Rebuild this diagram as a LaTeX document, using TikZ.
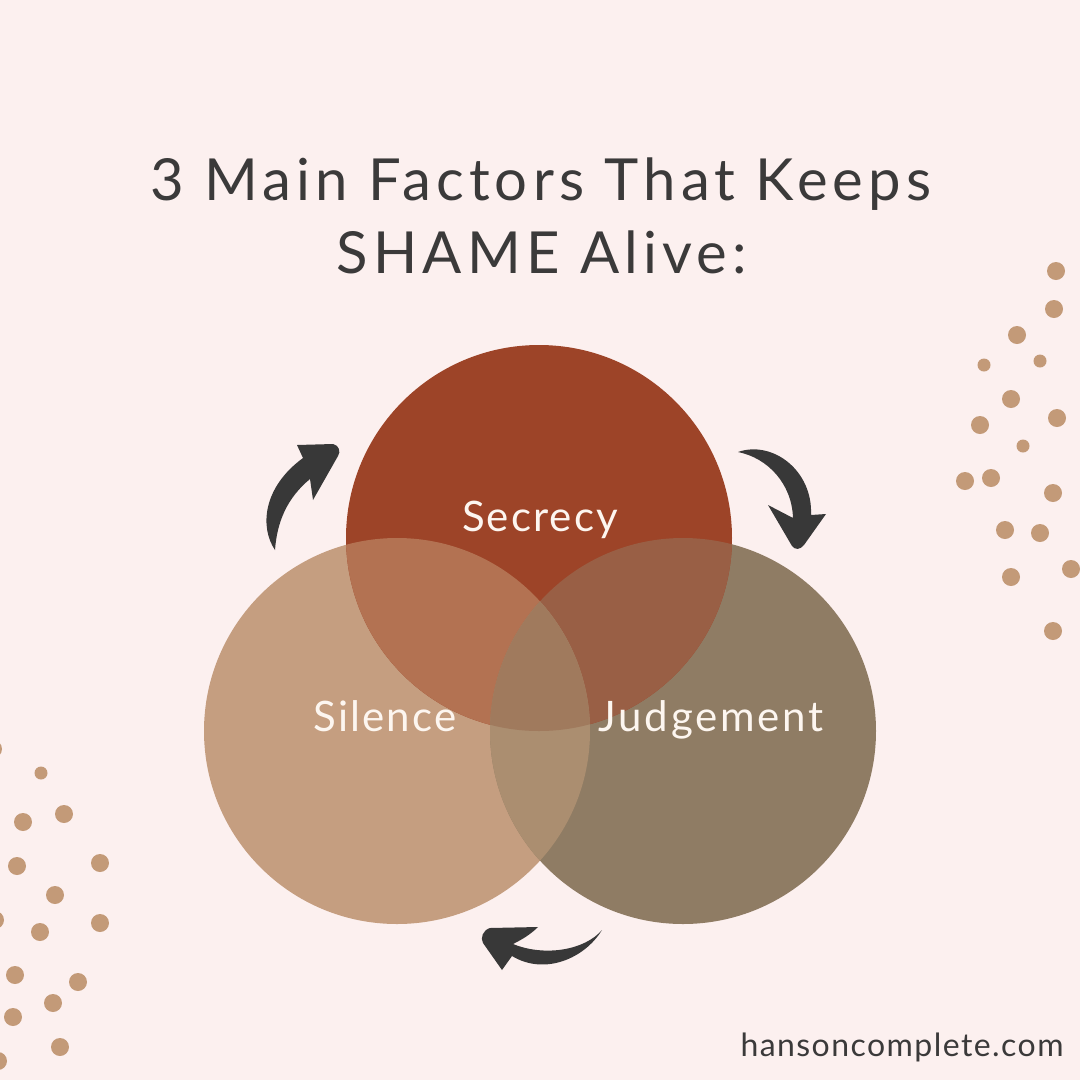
\documentclass[tikz,border=0pt]{standalone}
\usepackage{fontspec}
\newfontfamily\titlefont[LetterSpace=9]{Lato}
\newfontfamily\labelfont[LetterSpace=5]{Lato}
\newfontfamily\judgefont[LetterSpace=6.5]{Lato}
\newfontfamily\footfont[LetterSpace=4.5]{Lato}
\definecolor{bg}{HTML}{FCF0EF}
\definecolor{ink}{HTML}{3B3A3A}
\definecolor{arrowc}{HTML}{383838}
\definecolor{dotc}{HTML}{C39A78}
\definecolor{csec}{HTML}{9D4428}
\definecolor{csil}{HTML}{C59E80}
\definecolor{cjud}{HTML}{8F7C64}
\definecolor{csecsil}{HTML}{B37252}
\definecolor{csecjud}{HTML}{995F45}
\definecolor{csiljud}{HTML}{AB8E70}
\definecolor{call}{HTML}{A07A5D}
\definecolor{labc}{HTML}{FDF6F0}
\tikzset{
  titletext/.style={text=ink, anchor=base, inner sep=0pt, font=\titlefont\fontsize{58}{62}\selectfont},
  labeltext/.style={text=labc, anchor=base, inner sep=0pt, font=\labelfont\fontsize{42}{46}\selectfont},
  foottext/.style={text=ink, anchor=base, inner sep=0pt, font=\footfont\fontsize{32}{36}\selectfont},
  cyclearrow/.style={fill=arrowc, draw=none},
  dot/.style={fill=dotc, draw=none}
}
\begin{document}
\begin{tikzpicture}[x=1pt,y=-1pt]
\path[use as bounding box, fill=bg] (0,0) rectangle (1080,1080);
\clip (0,0) rectangle (1080,1080);

% title
\node[titletext] (t1) at (541,200) {3 Main Factors That Keeps};
\node[titletext] (t2) at (542,273) {SHAME Alive:};

% circles
\def\rr{193}
\coordinate (csecc) at (539,538);
\coordinate (csilc) at (397,731);
\coordinate (cjudc) at (683,731);
\fill[csil] (csilc) circle (\rr);
\fill[cjud] (cjudc) circle (\rr);
\fill[csec] (csecc) circle (\rr);
\begin{scope}
  \clip (csecc) circle (\rr);
  \fill[csecsil] (csilc) circle (\rr);
\end{scope}
\begin{scope}
  \clip (csecc) circle (\rr);
  \fill[csecjud] (cjudc) circle (\rr);
\end{scope}
\begin{scope}
  \clip (csilc) circle (\rr);
  \fill[csiljud] (cjudc) circle (\rr);
\end{scope}
\begin{scope}
  \clip (csecc) circle (\rr);
  \clip (csilc) circle (\rr);
  \fill[call] (cjudc) circle (\rr);
\end{scope}

% labels
\node[labeltext] (secrecy) at (540,531) {Secrecy};
\node[labeltext] (silence) at (385,731) {Silence};
\node[labeltext, font=\judgefont\fontsize{42}{46}\selectfont] (judgement) at (711,731) {Judgement};

% arrows
\fill[cyclearrow] (275,550) .. controls (260,528) and (262,488) .. (303,458)
  -- (297,445) -- (333,444) .. controls (339,445) and (341,452) .. (338,456)
  -- (313,500) -- (310,479) .. controls (287,498) and (277,522) .. (275,550) -- cycle;
\fill[cyclearrow] (738,452) .. controls (772,440) and (813,470) .. (811,515)
  -- (826,514) -- (804,545) .. controls (800,550) and (795,550) .. (792,546)
  -- (768,505) -- (793,518) .. controls (792,484) and (768,458) .. (738,452) -- cycle;
\fill[cyclearrow] (602,930) .. controls (585,958) and (545,976) .. (512,956)
  -- (502,970) -- (483,943) .. controls (480,938) and (483,930) .. (490,928)
  -- (538,927) .. controls (530,935) and (521,940) .. (513,944)
  .. controls (545,957) and (585,950) .. (602,930) -- cycle;

% dots right
\foreach \x/\y/\r in {1056/271/9,1054/309/9,1017/335/9,984/365/6.5,1040/361/6.5,1011/399/9,980/425/9,1057/418/9,1023/446/6.5,965/481/9,991/478/9,1053/493/9,1005/530/9,1040/533/9,1071/569/9,1011/577/9,1053/631/9}
  \fill[dot] (\x,\y) circle (\r);
% dots left
\foreach \x/\y/\r in {-7/749/9,41/773/6.5,64/814/9,23/822/9,17/866/9,100/863/9,55/895/9,-5/920/9,40/932/9,100/923/9,15/975/9,78/982/9,53/1003/9,13/1017/9,60/1047/9,-2/1061/9}
  \fill[dot] (\x,\y) circle (\r);

% footer
\node[foottext] (site) at (902,1056) {hansoncomplete.com};
\end{tikzpicture}
\end{document}
